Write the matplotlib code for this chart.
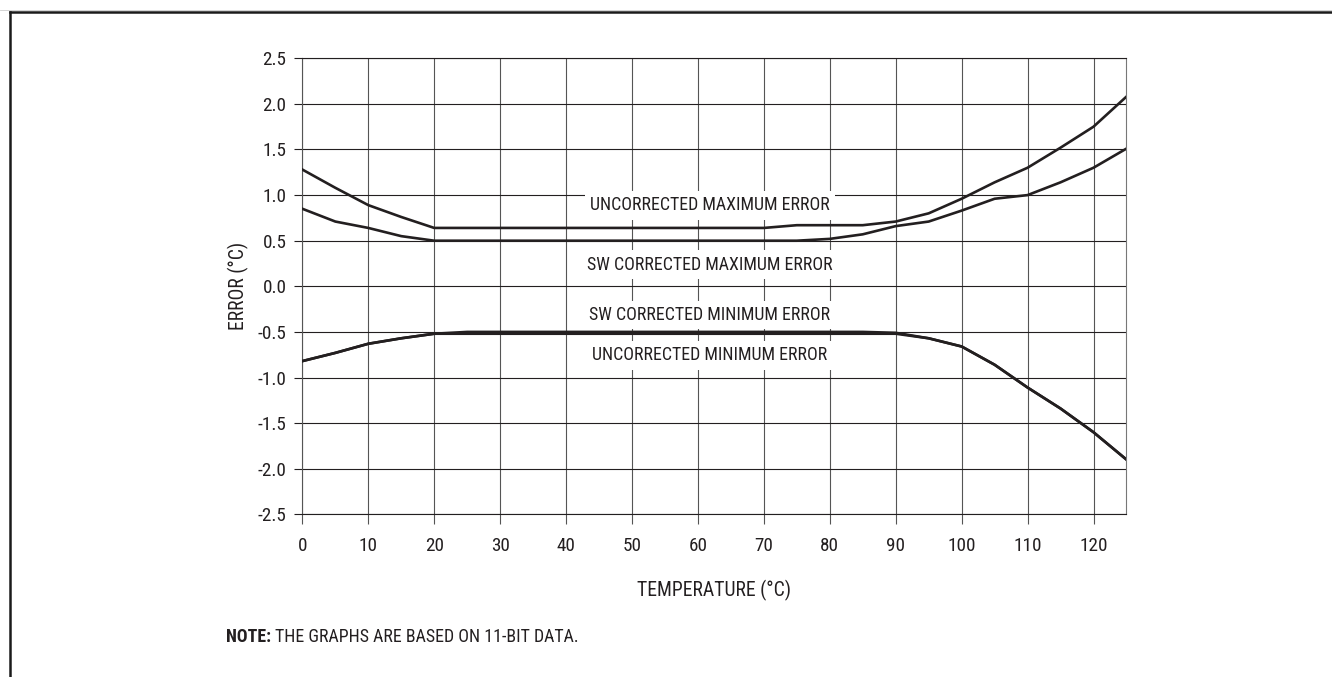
import matplotlib
matplotlib.use("Agg")
import matplotlib.pyplot as plt
from matplotlib.lines import Line2D
from matplotlib import font_manager

# the original uses a condensed grotesque; pick a condensed family that has regular + bold
weights = {}
for f in font_manager.fontManager.ttflist:
    if f.style == "normal":
        weights.setdefault(f.name, set()).add(f.weight)
family = "DejaVu Sans"
for name in ["Roboto Condensed", "Fira Sans Condensed", "IBM Plex Sans Condensed",
             "Barlow Semi Condensed", "Asap Condensed", "Archivo Narrow"]:
    w = weights.get(name, set())
    if (400 in w or "normal" in w) and (700 in w or "bold" in w):
        family = name
        break
plt.rcParams["font.family"] = [family, "DejaVu Sans"]
plt.rcParams["axes.unicode_minus"] = False

temp = [0, 5, 10, 15, 20, 25, 30, 35, 40, 45, 50, 55, 60, 65, 70,
        75, 80, 85, 90, 95, 100, 105, 110, 115, 120, 125]
uncorr_max = [1.28, 1.08, 0.89, 0.76, 0.64, 0.64, 0.64, 0.64, 0.64, 0.64, 0.64, 0.64, 0.64, 0.64, 0.64,
              0.67, 0.67, 0.67, 0.71, 0.80, 0.96, 1.14, 1.30, 1.52, 1.75, 2.08]
sw_max = [0.85, 0.71, 0.64, 0.55, 0.50, 0.50, 0.50, 0.50, 0.50, 0.50, 0.50, 0.50, 0.50, 0.50, 0.50,
          0.50, 0.52, 0.57, 0.66, 0.71, 0.83, 0.96, 1.00, 1.14, 1.30, 1.51]
sw_min = [-0.82, -0.73, -0.63, -0.57, -0.52, -0.50, -0.50, -0.50, -0.50, -0.50, -0.50, -0.50, -0.50, -0.50, -0.50,
          -0.50, -0.50, -0.50, -0.51, -0.57, -0.66, -0.86, -1.11, -1.34, -1.60, -1.90]
uncorr_min = [-0.82, -0.73, -0.63, -0.57, -0.52, -0.52, -0.52, -0.52, -0.52, -0.52, -0.52, -0.52, -0.52, -0.52, -0.52,
              -0.52, -0.52, -0.52, -0.52, -0.57, -0.66, -0.86, -1.11, -1.34, -1.60, -1.90]

x_ticks = [0, 10, 20, 30, 40, 50, 60, 70, 80, 90, 100, 110, 120]
y_ticks = [-2.5, -2.0, -1.5, -1.0, -0.5, 0.0, 0.5, 1.0, 1.5, 2.0, 2.5]
y_labels = ["-2.5", "-2.0", "-1.5", "-1.0", "-0.5", "0.0", "0.5", "1.0", "1.5", "2.0", "2.5"]

labels = ["UNCORRECTED MAXIMUM ERROR", "SW CORRECTED MAXIMUM ERROR",
          "SW CORRECTED MINIMUM ERROR", "UNCORRECTED MINIMUM ERROR"]
label_y = [0.89, 0.235, -0.315, -0.755]

fig = plt.figure(figsize=(13.32, 6.77), dpi=100)
ax = fig.add_axes([0.227, 0.2403, 0.6187, 0.6736])

# size the text so the first curve label is about as wide as in the original (~241 px)
probe = fig.text(0, 0, labels[0], fontsize=14)
fig.canvas.draw()
fs = 14 * 241 / probe.get_window_extent().width
fs = max(11, min(fs, 16))
probe.remove()
fs_tick = fs * 1.07
fs_axis = fs * 1.1

ink = "#231f20"
ax.set_xlim(0, 125)
ax.set_ylim(-2.5, 2.5)
ax.set_xticks(x_ticks)
ax.set_yticks(y_ticks)
ax.set_yticklabels(y_labels)
ax.tick_params(axis="x", length=7, width=0.8, color="#555555", pad=9, labelsize=fs_tick, labelcolor=ink)
ax.tick_params(axis="y", length=5.5, width=0.8, color=ink, pad=6, labelsize=fs_tick, labelcolor=ink)
ax.grid(axis="x", color="#555555", linewidth=0.8)
ax.grid(axis="y", color=ink, linewidth=0.8)
ax.spines["left"].set_color("#555555")
ax.spines["right"].set_color("#777777")
ax.spines["top"].set_color(ink)
ax.spines["bottom"].set_color(ink)
for s in ax.spines.values():
    s.set_linewidth(0.8)

ax.plot(temp, uncorr_max, color=ink, lw=1.9, zorder=4)
ax.plot(temp, sw_max, color=ink, lw=1.9, zorder=4)
ax.plot(temp, sw_min, color=ink, lw=1.9, zorder=4)
ax.plot(temp, uncorr_min, color=ink, lw=1.9, zorder=4)

for txt, yy in zip(labels, label_y):
    ax.text(61.8, yy, txt, ha="center", va="center", fontsize=fs, color=ink, zorder=3,
            bbox=dict(boxstyle="square,pad=0.3", fc="white", ec="none"))

ax.text(-0.078, 0.5, "ERROR (°C)", transform=ax.transAxes, rotation=90,
        ha="center", va="center", fontsize=fs_axis, color=ink)
ax.text(0.5, -0.168, "TEMPERATURE (°C)", transform=ax.transAxes,
        ha="center", va="center", fontsize=fs_axis, color=ink)

# note line: bold "NOTE:" then the rest right after it
t1 = fig.text(226 / 1332, 1 - 637 / 677, "NOTE:", fontweight="bold", fontsize=fs,
              color=ink, va="center", ha="left")
fig.canvas.draw()
bb = t1.get_window_extent()
fig.text((bb.x1 + 4) / 1332, 1 - 637 / 677, "THE GRAPHS ARE BASED ON 11-BIT DATA.",
         fontsize=fs, color=ink, va="center", ha="left")

# page frame
fig.add_artist(Line2D([9.5 / 1332, 9.5 / 1332], [0, 1 - 12 / 677], color="#1a1a1a", lw=1.8))
fig.add_artist(Line2D([9.5 / 1332, 1], [1 - 12 / 677, 1 - 12 / 677], color="#1a1a1a", lw=1.8))
fig.add_artist(Line2D([0, 1], [1 - 9.5 / 677, 1 - 9.5 / 677], color="#cccccc", lw=0.6))

fig.savefig("out.png", dpi=100)
